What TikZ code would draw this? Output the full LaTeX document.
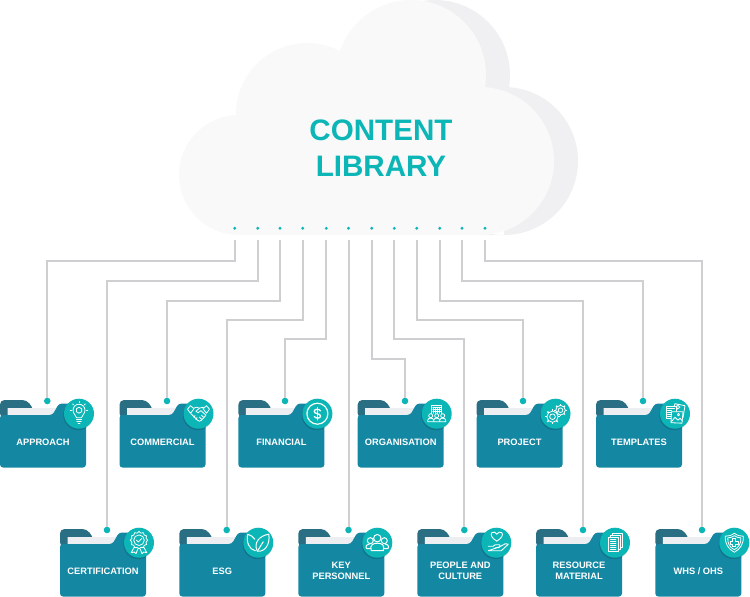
\documentclass[tikz,border=0pt]{standalone}
\usepackage{fontspec}
\setmainfont{Liberation Sans}
\definecolor{tealc}{HTML}{0CB6B7}
\definecolor{folderc}{HTML}{1488A3}
\definecolor{tabc}{HTML}{2A6E84}
\definecolor{paperc}{HTML}{EDEEF2}
\definecolor{linkc}{HTML}{CFCFD2}
\definecolor{cloudc}{HTML}{F9F9FA}
\definecolor{cloudsh}{HTML}{F0F0F2}
\tikzset{
  link/.style={draw=linkc,line width=2},
  flabel/.style={text=white,font=\bfseries\fontsize{9.3}{11}\selectfont,align=center,inner sep=0},
  fdot/.style={circle,fill=tealc,minimum size=6.6,inner sep=0},
  cdot/.style={circle,fill=tealc,minimum size=3.2,inner sep=0},
  iconline/.style={draw=white,line width=0.8,line join=round,line cap=round},
  folder/.pic={
    \fill[tabc,rounded corners=4.5] (0,18) -- (0,0) -- (27,0) -- (34,10) -- (34,18) -- cycle;
    \fill[paperc] (7.5,8) -- (56.5,8) -- (54,16) -- (7.5,16) -- cycle;
    \fill[folderc,rounded corners=3] (0,15) -- (52.5,15) -- (59,3.5) -- (86,3.5) -- (86,67.5) -- (0,67.5) -- cycle;
  }
}
% icons, each one round its own centre
\newcommand{\iconbulb}{
  \draw (-2.5,4) .. controls (-2.5,1.5) and (-6,0.5) .. (-6,-3.5) arc (180:360:6) .. controls (6,0.5) and (2.5,1.5) .. (2.5,4) -- cycle;
  \draw (-2.5,6) -- (2.5,6) (-2.2,8) -- (2.2,8) (-1,10) -- (1,10);
  \draw (0,-6.5) -- (2.6,-5) -- (2.6,-2) -- (0,-0.5) -- (-2.6,-2) -- (-2.6,-5) -- cycle;
  \foreach \a in {180,225,270,315,0} \draw ([shift={(0,-3.5)}]\a:7.5) -- ([shift={(0,-3.5)}]\a:8.8);
}
\newcommand{\iconshake}{
  \draw (-11,-4.5) -- (-8,-8) -- (-4.5,-5) -- (-8,-0.5) -- cycle;
  \draw (11,-4.5) -- (8,-8) -- (4.5,-5) -- (8,-0.5) -- cycle;
  \draw (-5,-5.5) -- (-2,-6.5) -- (1,-5.5) -- (4,-6.5) -- (5.5,-5.5);
  \draw (1,-5.5) -- (-2.5,-2.5) -- (-0.5,-1) -- (2.5,-3) -- (7.5,1.5);
  \draw (-7.5,0) -- (-1,6.5) -- (1,7.5) -- (3,6.5) -- (7,2);
  \draw (-3.5,2) -- (-5,3.5) (-1.5,4) -- (-3,5.5) (1,3.5) -- (3.5,6) (3,1.5) -- (5.5,4);
}
\newcommand{\icondollar}{
  \draw[line width=1.2] (0,0) circle (10.5);
  \draw[line width=1.3] (3,-2.8) .. controls (2,-5) and (-3.2,-5) .. (-3.2,-2.4) .. controls (-3.2,0.6) and (3.2,-0.6) .. (3.2,2.4) .. controls (3.2,5) and (-2,5) .. (-3,2.8);
  \draw[line width=1.3] (0,-6.2) -- (0,6.2);
}
\newcommand{\iconorg}{
  \draw (-5,0) -- (-5,-8) -- (5,-8) -- (5,0);
  \foreach \u in {-3,-1,1,3} \draw (\u,-6.5) -- (\u,-0.5);
  \foreach \v in {-6,-4,-2} \draw (-4,\v) -- (4,\v);
  \foreach \u in {-6,0,6} {
    \draw[fill=tealc] (\u,2) circle (2);
    \draw[fill=tealc] (\u-3,8) -- (\u-3,6.5) .. controls (\u-3,3.8) and (\u+3,3.8) .. (\u+3,6.5) -- (\u+3,8) -- cycle;
  }
}
\newcommand{\icongears}{
  \draw (5,-3.5) circle (4.8) (5,-3.5) circle (2.3);
  \foreach \a in {0,45,...,315} \draw[line width=1.3,line cap=butt] ([shift={(5,-3.5)}]\a:4.8) -- ([shift={(5,-3.5)}]\a:6.2);
  \draw[fill=tealc] (-3,3) circle (5.6);
  \draw (-3,3) circle (2.8);
  \foreach \a in {0,45,...,315} \draw[line width=1.4,line cap=butt] ([shift={(-3,3)}]\a:5.6) -- ([shift={(-3,3)}]\a:7.3);
}
\newcommand{\icontempl}{
  \draw (-1,-7.5) -- (0,-10) -- (10,-8) -- (8,4);
  \draw (-9,-7.5) rectangle (1,5);
  \foreach \v in {-5.5,-3.5,-1.5,0.5,2.5} \draw (-7.5,\v) -- (-3.5,\v);
  \draw (-7.5,-5.5) -- (-0.5,-5.5);
  \draw[fill=tealc] (-3.5,-2) -- (8,-2) -- (7,9.5) -- (-4,9) -- cycle;
  \draw (-3.5,8) -- (0,3.5) -- (3,6.5) -- (5,4.5) -- (7.2,7);
  \draw (3.5,1) circle (1.2);
  \draw (2,-9) -- (5,-6.5) -- (2,-4.5) -- cycle;
}
\newcommand{\iconcert}{
  \draw plot[smooth cycle,samples=24,domain=0:345] ({(8+0.7*cos(12*\x))*cos(\x)},{-2.5+(8+0.7*cos(12*\x))*sin(\x)});
  \draw (0,-2.5) circle (5.3);
  \draw[line width=0.9] (-2.5,-2.5) -- (-0.7,-0.7) -- (2.7,-4.2);
  \draw (-4.8,4.5) -- (-7.8,10) -- (-4.8,9.3) -- (-3,11) -- (-1.2,6.2);
  \draw (4.8,4.5) -- (7.8,10) -- (4.8,9.3) -- (3,11) -- (1.2,6.2);
}
\newcommand{\iconleaf}{
  \draw[line width=1] (-1,8.5) .. controls (-5,0) and (1,-7) .. (10.5,-8.5) .. controls (12,1) and (7,9.5) .. (-1,8.5) -- cycle;
  \draw[line width=1] (-1,8.5) -- (5,-1);
  \draw[line width=1] (-3.5,-3.5) .. controls (-5,-6) and (-7.5,-7.5) .. (-10.5,-8.5) .. controls (-12.5,-1) and (-9,7) .. (-3,8);
}
\newcommand{\iconpeople}{
  \draw[line width=1] (0,-4.5) circle (3.7);
  \draw[line width=1] (-7,-2) circle (3) (7,-2) circle (3);
  \draw[line width=1] (-6,6) -- (-10,6) .. controls (-12,6) and (-12,1.5) .. (-8,1.5);
  \draw[line width=1] (6,6) -- (10,6) .. controls (12,6) and (12,1.5) .. (8,1.5);
  \draw[line width=1,fill=tealc] (-6,8) .. controls (-8,2) and (-4,0.5) .. (0,0.5) .. controls (4,0.5) and (8,2) .. (6,8) -- cycle;
}
\newcommand{\iconheart}{
  \draw[line width=0.9] (0.5,-1.5) .. controls (-5,-5) and (-6,-8) .. (-4.5,-10) .. controls (-3,-11.5) and (-0.5,-10.5) .. (0.5,-8.5) .. controls (1.5,-10.5) and (4,-11.5) .. (5.5,-10) .. controls (7,-8) and (6,-5) .. (0.5,-1.5) -- cycle;
  \draw[line width=0.9] (-8,3.5) -- (-3,3.5) -- (-1,2) -- (3,2) -- (4,3.5) -- (2.5,5) -- (-1,5);
  \draw[line width=0.9] (3.5,4) -- (9,1) -- (12,1.5) -- (5,8) -- (-8,8) -- cycle;
}
\newcommand{\iconpages}{
  \foreach \s in {4,2} \draw[fill=tealc] (-6.5+\s,-5.5-\s) rectangle (3+\s,9-\s);
  \draw[fill=tealc] (-6.5,-5.5) rectangle (3,9);
  \foreach \v in {-3,-1,1,3,5,7} \draw (-4.5,\v) -- (1,\v);
}
\newcommand{\iconshield}{
  \draw (0,-9.5) .. controls (3,-7) and (6,-6.5) .. (9,-6.5) .. controls (9.5,1) and (6,6.5) .. (0,9.5) .. controls (-6,6.5) and (-9.5,1) .. (-9,-6.5) .. controls (-6,-6.5) and (-3,-7) .. (0,-9.5) -- cycle;
  \draw (0,-7) .. controls (2,-5.5) and (4.5,-4.8) .. (6.5,-4.8) .. controls (7,0.5) and (4.5,4.8) .. (0,7) .. controls (-4.5,4.8) and (-7,0.5) .. (-6.5,-4.8) .. controls (-4.5,-4.8) and (-2,-5.5) .. (0,-7) -- cycle;
  \draw[line width=0.9] (-1.4,-4) -- (1.4,-4) -- (1.4,-1.4) -- (4,-1.4) -- (4,1.4) -- (1.4,1.4) -- (1.4,4) -- (-1.4,4) -- (-1.4,1.4) -- (-4,1.4) -- (-4,-1.4) -- (-1.4,-1.4) -- cycle;
}

\begin{document}
\begin{tikzpicture}[x=1pt,y=-1pt]
\useasboundingbox (0,0) rectangle (750,597);

% the cloud, shadow first
\fill[cloudsh] (435,75) circle (75) (504,161) circle (74) (480,161) rectangle (504,235);
\fill[cloudc] (239,175) circle (60) (307,114) circle (71) (411,75) circle (75) (480,161) circle (74);
\fill[cloudc] (239,115) rectangle (480,235);
\fill[cloudc] (300,60) rectangle (440,120);
\node[text=tealc,font=\bfseries\fontsize{29.6}{36}\selectfont,align=center,inner sep=0] (title) at (381,148) {CONTENT\\LIBRARY};

% dots on the cloud and the free ends under them
\foreach \i/\cx in {1/234.7,2/257.7,3/280,4/302.7,5/326.3,6/348.5,7/371.7,8/394.3,9/416.7,10/439.7,11/462,12/485} {
  \node[cdot] (cd\i) at (\cx,228.3) {};
  \coordinate (top\i) at (\cx,240);
}

% connectors
\foreach \i/\nm/\ty/\dx/\fy in {1/approach/260.5/47.3/401,2/certification/280.7/107/530,3/commercial/300.7/167/401,4/esg/319.8/226.7/530,5/financial/339/285/401,
  7/organisation/359/405/401,8/culture/339/464.3/530,9/project/320/523/401,10/resource/300.7/583/530,11/templates/280.7/643/401,12/whs/260.6/702/530} {
  \node[fdot] (dot-\nm) at (\dx,\fy) {};
  \draw[link] (top\i) -- (top\i |- 0,\ty) -| (dot-\nm);
}
\node[fdot] (dot-key) at (348.5,530) {};
\draw[link] (top6) -- (dot-key);

% folders
\foreach \fx/\fy/\nm/\txt/\ico in {
  0/400/approach/APPROACH/bulb,
  119.5/400/commercial/COMMERCIAL/shake,
  238.4/400/financial/FINANCIAL/dollar,
  357.7/400/organisation/ORGANISATION/org,
  476.5/400/project/PROJECT/gears,
  596/400/templates/TEMPLATES/templ,
  60/529/certification/CERTIFICATION/cert,
  179.3/529/esg/ESG/leaf,
  298.3/529/key/{KEY\\PERSONNEL}/people,
  417.3/529/culture/{PEOPLE AND\\CULTURE}/heart,
  536/529/resource/{RESOURCE\\MATERIAL}/pages,
  655.3/529/whs/{WHS / OHS}/shield} {
  \pic at (\fx,\fy) {folder};
  \node[flabel] (lbl-\nm) at (\fx+43,\fy+41.8) {\txt};
  \fill[black,opacity=0.14] (\fx+78.3,\fy+15.2) circle (15);
  \node[circle,fill=tealc,minimum size=30,inner sep=0] (ico-\nm) at (\fx+79,\fy+13.7) {};
  \begin{scope}[shift={(\fx+79,\fy+13.7)},every path/.style={iconline}]
    \csname icon\ico\endcsname
  \end{scope}
}
\end{tikzpicture}
\end{document}
